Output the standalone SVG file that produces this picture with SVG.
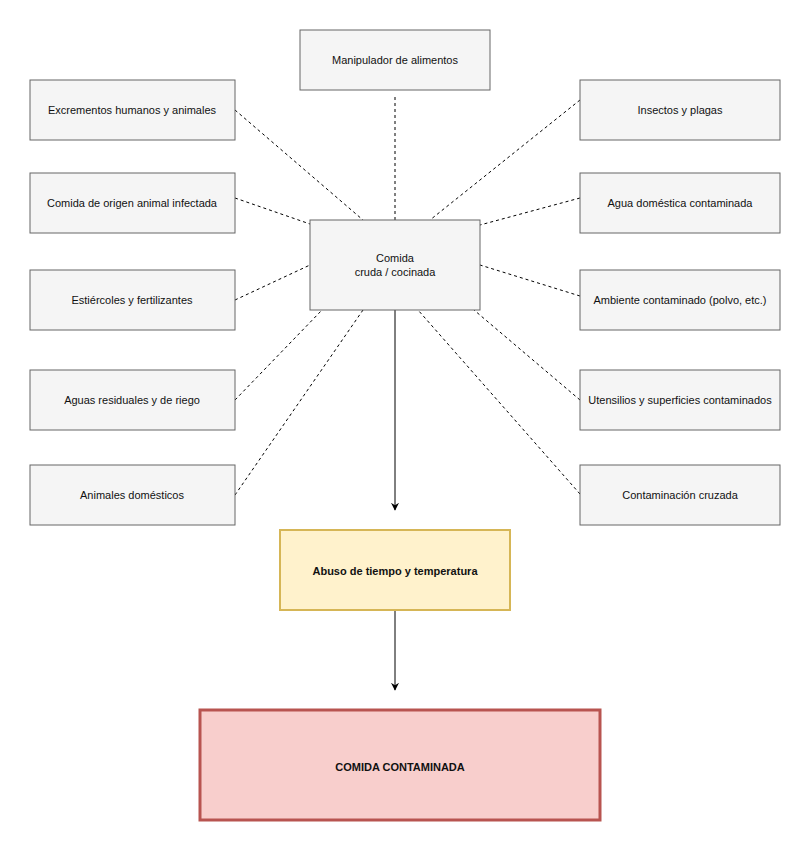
<svg xmlns="http://www.w3.org/2000/svg" width="811" height="853" viewBox="0 0 811 853">
<style>
.n{fill:#f5f5f5;stroke:#666;stroke-width:1}
.t{font-family:"Liberation Sans",Arial,sans-serif;font-size:11px;fill:#111;text-anchor:middle}
.d{stroke:#000;stroke-width:1;stroke-dasharray:3 3;fill:none}
.s{stroke:#000;stroke-width:1;fill:none;marker-end:url(#a)}
</style>
<defs><marker id="a" viewBox="0 0 10 10" refX="9" refY="5" markerWidth="8" markerHeight="8" orient="auto" markerUnits="userSpaceOnUse"><path d="M0,0 L10,5 L0,10 L3,5 Z" fill="#000"/></marker></defs>
<rect width="811" height="853" fill="#fff"/>
<g id="connectors">
<path class="d" d="M395,97 V220"/>
<path class="d" d="M235,110 L363,220"/>
<path class="d" d="M235,198 L310,224"/>
<path class="d" d="M235,300 L310,265"/>
<path class="d" d="M235,400 L322,310"/>
<path class="d" d="M235,495 L363,310"/>
<path class="d" d="M580,100 L430,220"/>
<path class="d" d="M580,198 L480,225"/>
<path class="d" d="M580,296 L480,265"/>
<path class="d" d="M580,400 L474,310"/>
<path class="d" d="M580,494 L418,310"/>
<path class="s" d="M395,310 V510"/>
<path class="s" d="M395,610 V690"/>
</g>
<g id="top"><rect class="n" x="300" y="30" width="190" height="60"/><text class="t" x="395" y="64">Manipulador de alimentos</text></g>
<g id="center"><rect class="n" x="310" y="220" width="170" height="90"/><text class="t" x="395" y="262" font-size="12">Comida</text><text class="t" x="395" y="276" font-size="12">cruda / cocinada</text></g>
<g id="l1"><rect class="n" x="30" y="80" width="205" height="60"/><text class="t" x="132" y="114">Excrementos humanos y animales</text></g>
<g id="l2"><rect class="n" x="30" y="173" width="205" height="60"/><text class="t" x="132" y="207">Comida de origen animal infectada</text></g>
<g id="l3"><rect class="n" x="30" y="270" width="205" height="60"/><text class="t" x="132" y="304">Estiércoles y fertilizantes</text></g>
<g id="l4"><rect class="n" x="30" y="370" width="205" height="60"/><text class="t" x="132" y="404">Aguas residuales y de riego</text></g>
<g id="l5"><rect class="n" x="30" y="465" width="205" height="60"/><text class="t" x="132" y="499" font-size="12">Animales domésticos</text></g>
<g id="r1"><rect class="n" x="580" y="80" width="200" height="60"/><text class="t" x="680" y="114">Insectos y plagas</text></g>
<g id="r2"><rect class="n" x="580" y="173" width="200" height="60"/><text class="t" x="680" y="207">Agua doméstica contaminada</text></g>
<g id="r3"><rect class="n" x="580" y="270" width="200" height="60"/><text class="t" x="680" y="304">Ambiente contaminado (polvo, etc.)</text></g>
<g id="r4"><rect class="n" x="580" y="370" width="200" height="60"/><text class="t" x="680" y="404">Utensilios y superficies contaminados</text></g>
<g id="r5"><rect class="n" x="580" y="465" width="200" height="60"/><text class="t" x="680" y="499">Contaminación cruzada</text></g>
<g id="abuso"><rect x="280" y="530" width="230" height="80" fill="#fff2cc" stroke="#d6b656" stroke-width="2"/><text class="t" x="395" y="575" font-size="13" font-weight="bold">Abuso de tiempo y temperatura</text></g>
<g id="final"><rect x="200" y="710" width="400" height="110" fill="#f8cecc" stroke="#b85450" stroke-width="3"/><text class="t" x="400" y="771" font-size="16" font-weight="bold">COMIDA CONTAMINADA</text></g>
</svg>
